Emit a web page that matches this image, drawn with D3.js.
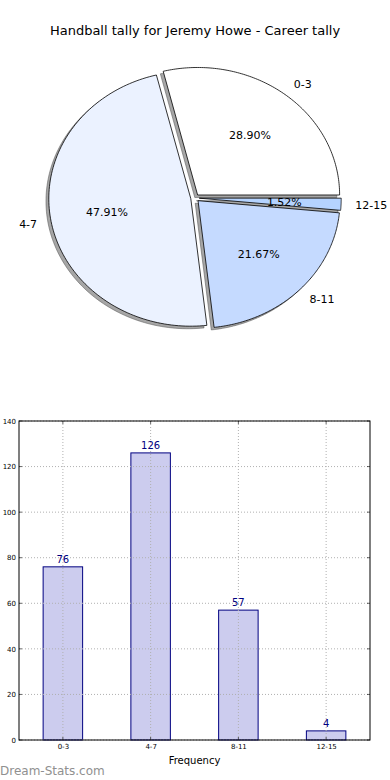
<!DOCTYPE html>
<html><head><meta charset="utf-8">
<script src="https://cdn.jsdelivr.net/npm/d3@7"></script>
<style>body{margin:0;background:#fff}svg{display:block;font-family:"DejaVu Sans",sans-serif}</style>
</head><body><div id="c"></div>
<script>
const title = "Handball tally for Jeremy Howe - Career tally";
const categories = ["0-3", "4-7", "8-11", "12-15"];
const counts = [76, 126, 57, 4];
const pieColors = ["#ffffff", "#ebf2ff", "#c5daff", "#b5d3ff"];
const yTicks = [0, 20, 40, 60, 80, 100, 120, 140];
const xLabel = "Frequency";
const watermark = "Dream-Stats.com";

const W = 390, H = 780;
const svg = d3.select("#c").append("svg").attr("width", W).attr("height", H);

svg.append("text").attr("x", 195).attr("y", 35).attr("text-anchor", "middle")
  .attr("font-size", 13).attr("fill", "#000").text(title);

// ---- Pie (elliptical, as matplotlib with unequal aspect) ----
const cx = 195, cy = 198, rx = 142, ry = 127.5;
const sx = d3.scaleLinear().domain([-1, 1]).range([cx - rx, cx + rx]);
const sy = d3.scaleLinear().domain([-1, 1]).range([cy + ry, cy - ry]);
const explode = 0.03;
const total = d3.sum(counts);
let acc = 0;
const wedges = counts.map((v, i) => {
  const t1 = acc / total * 2 * Math.PI;
  acc += v;
  const t2 = acc / total * 2 * Math.PI;
  const tm = (t1 + t2) / 2;
  return {i, v, t1, t2, tm, ox: explode * Math.cos(tm), oy: explode * Math.sin(tm)};
});
const line = d3.line().x(d => sx(d[0])).y(d => sy(d[1]));
function wedgePath(w, dx, dy) {
  const pts = [[w.ox + dx, w.oy + dy]];
  const n = 120;
  for (let k = 0; k <= n; k++) {
    const t = w.t1 + (w.t2 - w.t1) * k / n;
    pts.push([w.ox + dx + Math.cos(t), w.oy + dy + Math.sin(t)]);
  }
  return line(pts) + "Z";
}
const pg = svg.append("g");
// shadows
pg.selectAll("path.sh").data(wedges).enter().append("path").attr("class", "sh")
  .attr("d", w => wedgePath(w, -0.02, -0.02))
  .attr("fill", "#4d4d4d").attr("fill-opacity", 0.5)
  .attr("stroke", "#4d4d4d").attr("stroke-opacity", 0.5).attr("stroke-width", 1);
pg.selectAll("path.w").data(wedges).enter().append("path").attr("class", "w")
  .attr("d", w => wedgePath(w, 0, 0))
  .attr("fill", w => pieColors[w.i]).attr("stroke", "#000").attr("stroke-width", 0.8)
  .attr("stroke-linejoin", "miter");
// labels
pg.selectAll("text.lb").data(wedges).enter().append("text").attr("class", "lb")
  .attr("x", w => sx(w.ox + 1.1 * Math.cos(w.tm)))
  .attr("y", w => sy(w.oy + 1.1 * Math.sin(w.tm)))
  .attr("dy", "0.35em")
  .attr("text-anchor", w => Math.cos(w.tm) > 0 ? "start" : "end")
  .attr("font-size", 11).text(w => categories[w.i]);
pg.selectAll("text.pc").data(wedges).enter().append("text").attr("class", "pc")
  .attr("x", w => sx(w.ox + 0.6 * Math.cos(w.tm)))
  .attr("y", w => sy(w.oy + 0.6 * Math.sin(w.tm)))
  .attr("dy", "0.35em").attr("text-anchor", "middle")
  .attr("font-size", 11).text(w => (w.v / total * 100).toFixed(2) + "%");

// ---- Bar chart ----
const L = 19, R = 370, T = 421, B = 740;
const x = d3.scaleLinear().domain([-0.5, 3.5]).range([L, R]);
const y = d3.scaleLinear().domain([0, 140]).range([B, T]);
const bw = 0.45;
const bg = svg.append("g");
bg.selectAll("rect.bar").data(counts).enter().append("rect").attr("class", "bar")
  .attr("x", (d, i) => x(i - bw / 2)).attr("width", (d, i) => x(i + bw / 2) - x(i - bw / 2))
  .attr("y", d => y(d)).attr("height", d => y(0) - y(d))
  .attr("fill", "#ccccee").attr("stroke", "#000080").attr("stroke-width", 1);
// grid
bg.selectAll("line.gy").data(yTicks).enter().append("line")
  .attr("x1", L).attr("x2", R).attr("y1", d => y(d)).attr("y2", d => y(d))
  .attr("stroke", "#b0b0b0").attr("stroke-dasharray", "1,2").attr("stroke-width", 1);
bg.selectAll("line.gx").data(categories).enter().append("line")
  .attr("y1", T).attr("y2", B).attr("x1", (d, i) => x(i)).attr("x2", (d, i) => x(i))
  .attr("stroke", "#b0b0b0").attr("stroke-dasharray", "1,2").attr("stroke-width", 1);
// value labels
bg.selectAll("text.val").data(counts).enter().append("text")
  .attr("x", (d, i) => x(i)).attr("y", d => y(d) - 4).attr("text-anchor", "middle")
  .attr("font-size", 10).attr("fill", "#000080").text(d => d);
// axes
const yAxis = d3.axisLeft(y).tickValues(yTicks).tickSize(0).tickPadding(3);
bg.append("g").attr("transform", `translate(${L},0)`).call(yAxis)
  .call(g => g.select(".domain").remove())
  .selectAll("text").attr("font-size", 7).attr("font-family", "DejaVu Sans");
const xAxis = d3.axisBottom(x).tickValues([0, 1, 2, 3]).tickFormat(i => categories[i]).tickSize(0).tickPadding(4);
bg.append("g").attr("transform", `translate(0,${B})`).call(xAxis)
  .call(g => g.select(".domain").remove())
  .selectAll("text").attr("font-size", 7).attr("font-family", "DejaVu Sans");
// inward ticks on all sides
const tk = bg.append("g").attr("stroke", "#000").attr("stroke-width", 0.6);
yTicks.forEach(t => {
  tk.append("line").attr("x1", L).attr("x2", L + 3).attr("y1", y(t)).attr("y2", y(t));
  tk.append("line").attr("x1", R).attr("x2", R - 3).attr("y1", y(t)).attr("y2", y(t));
});
[0, 1, 2, 3].forEach(t => {
  tk.append("line").attr("x1", x(t)).attr("x2", x(t)).attr("y1", B).attr("y2", B - 3);
  tk.append("line").attr("x1", x(t)).attr("x2", x(t)).attr("y1", T).attr("y2", T + 3);
});
bg.append("rect").attr("x", L).attr("y", T).attr("width", R - L).attr("height", B - T)
  .attr("fill", "none").attr("stroke", "#000").attr("stroke-width", 1);
svg.append("text").attr("x", (L + R) / 2).attr("y", 764).attr("text-anchor", "middle")
  .attr("font-size", 10).text(xLabel);
svg.append("text").attr("x", 0).attr("y", 775).attr("font-size", 12)
  .attr("fill", "#909090").text(watermark);
</script></body></html>
